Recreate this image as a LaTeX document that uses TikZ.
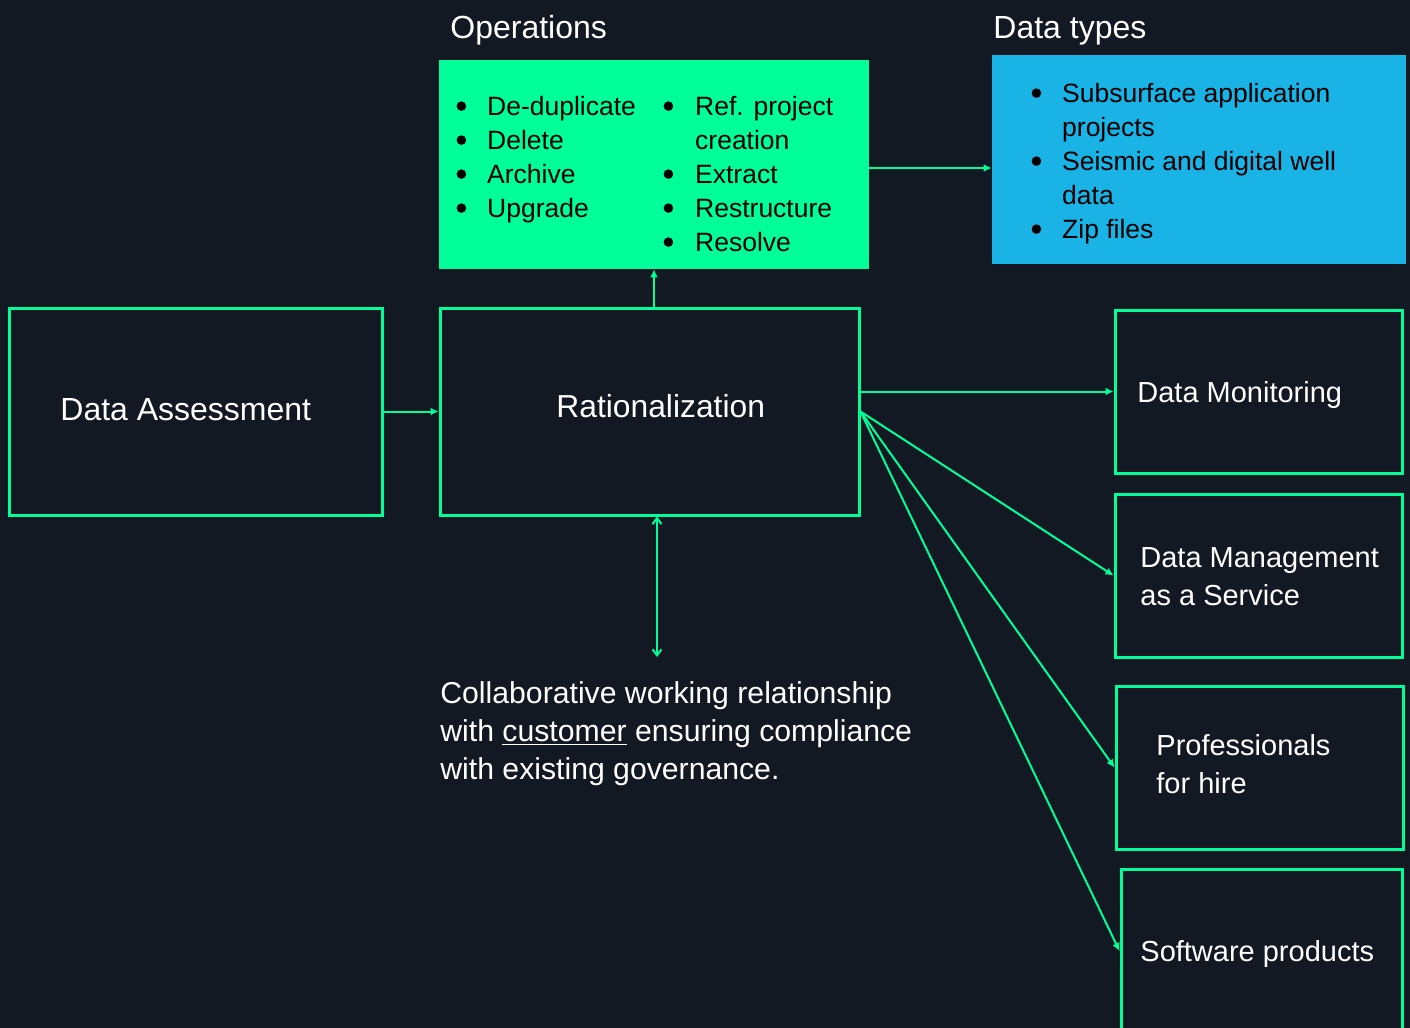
\documentclass[tikz,border=0pt]{standalone}
\usepackage{fontspec}
\setmainfont{Liberation Sans}
\usetikzlibrary{arrows.meta,calc}
\definecolor{bg}{HTML}{131922}
\definecolor{grn}{HTML}{00FF99}
\definecolor{blu}{HTML}{1AB3E6}
\newcommand{\bigbul}{\makebox[4.6pt]{\raisebox{2.3pt}{\tikz\fill (0,0) circle (2.4pt);}}}
\begin{document}
\begin{tikzpicture}[x=0.5pt,y=-0.5pt,
  box/.style={draw=grn,line width=1.5pt,inner sep=0pt,rectangle},
  panel/.style={inner sep=0pt,rectangle},
  conn/.style={draw=grn,line width=1pt,-{Latex[length=4pt,width=4pt]}},
  both/.style={draw=grn,line width=1pt,{Straight Barb[length=3pt,width=4.5pt]}-{Straight Barb[length=3pt,width=4.5pt]}},
  txt/.style={text=white,inner sep=0pt,anchor=base west},
  big/.style={font=\fontsize{16}{19}\selectfont},
  mid/.style={font=\fontsize{14.5}{19}\selectfont},
  small/.style={font=\fontsize{13.25}{17}\selectfont}]
\fill[bg] (0,0) rectangle (1410,1028);
\useasboundingbox (0,0) rectangle (1410,1028);

% panels
\node[panel,fill=grn,minimum width=215pt,minimum height=104.5pt] (ops) at (654,164.5) {};
\node[panel,fill=blu,minimum width=207pt,minimum height=104.5pt] (dt) at (1199,159.5) {};

% boxes
\node[box,minimum width=186.5pt,minimum height=103.5pt] (da) at (195.5,411.5) {};
\node[box,minimum width=209.5pt,minimum height=103.5pt] (ra) at (649.5,411.5) {};
\node[box,minimum width=143.5pt,minimum height=81.5pt] (dm) at (1258.5,391.5) {};
\node[box,minimum width=143.5pt,minimum height=81.5pt] (dmaas) at (1258.5,575.5) {};
\node[box,minimum width=143.5pt,minimum height=81.5pt] (pro) at (1259.5,767.5) {};
\node[box,minimum width=140.5pt,minimum height=82pt] (sw) at (1261.5,951) {};

% titles
\node[txt,big] (opst) at (450,38.5) {Operations};
\node[txt,big] (dtt) at (993,38.5) {Data types};

% lists
\node[txt,small,text=black] (opsl) at (456.4,115.5) {\begin{tabular}[t]{@{}l@{\hspace{10.6pt}}l@{}}
\bigbul & De-duplicate\\
\bigbul & Delete\\
\bigbul & Archive\\
\bigbul & Upgrade
\end{tabular}};
\node[txt,small,text=black] (opsr) at (663.4,115.5) {\begin{tabular}[t]{@{}l@{\hspace{11.1pt}}l@{}}
\bigbul & Ref. project\\
 & creation\\
\bigbul & Extract\\
\bigbul & Restructure\\
\bigbul & Resolve
\end{tabular}};
\node[txt,small,text=black] (dtl) at (1031.4,102.5) {\begin{tabular}[t]{@{}l@{\hspace{10.6pt}}l@{}}
\bigbul & Subsurface application\\
 & projects\\
\bigbul & Seismic and digital well\\
 & data\\
\bigbul & Zip files
\end{tabular}};

% box labels
\node[txt,big] (dal) at (60,420.5) {Data Assessment};
\node[txt,font=\fontsize{15.9}{19}\selectfont] (ral) at (556,417.5) {Rationalization};
\node[txt,mid] (dml) at (1137,402) {Data Monitoring};
\node[txt,mid] (dmaasl) at (1140,567) {\begin{tabular}[t]{@{}l@{}}Data Management\\ as a Service\end{tabular}};
\node[txt,mid] (prol) at (1156,755) {\begin{tabular}[t]{@{}l@{}}Professionals\\ for hire\end{tabular}};
\node[txt,mid] (swl) at (1140,961) {Software products};
\node[txt,font=\fontsize{15.1}{19}\selectfont] (coll) at (440,703.5) {\begin{tabular}[t]{@{}l@{}}Collaborative working relationship\\ with \underline{customer} ensuring compliance\\ with existing governance.\end{tabular}};

% connectors
\draw[conn] (da.east) -- (ra.west);
\draw[conn] (ops.south |- ra.north) -- (ops.south);
\draw[conn] ([yshift=-1.75pt]ops.east) -- ([yshift=-1.75pt]ops.east -| dt.west);
\draw[conn] (ra.east |- dm.west) -- (dm.west);
\draw[conn] (ra.east) -- (dmaas.west);
\draw[conn] (ra.east) -- (pro.west);
\draw[conn] (ra.east) -- (sw.west);
\coordinate (collab) at (657,657);
\draw[both] (collab |- ra.south) -- (collab);
\end{tikzpicture}
\end{document}
